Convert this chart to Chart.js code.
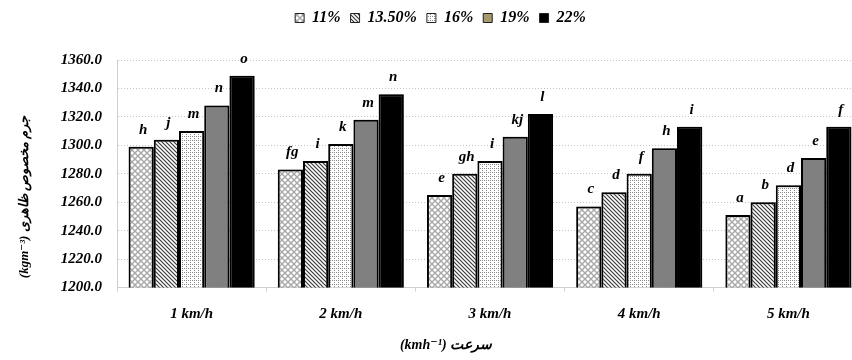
<!DOCTYPE html>
<html>
<head>
<meta charset="utf-8">
<script src="https://cdn.jsdelivr.net/npm/chart.js@4"></script>
<style>
  html, body { margin: 0; padding: 0; background: #fff; overflow: hidden; }
  #wrap { width: 880px; height: 360px; position: relative; }
</style>
</head>
<body>
<div id="wrap"><canvas id="c"></canvas></div>
<script>
const categories = ['1 km/h', '2 km/h', '3 km/h', '4 km/h', '5 km/h'];
const seriesNames = ['11%', '13.50%', '16%', '19%', '22%'];
const s11  = [1299, 1283, 1265, 1257, 1251];
const s135 = [1304, 1289, 1280, 1267, 1260];
const s16  = [1310, 1301, 1289, 1280, 1272];
const s19  = [1328, 1318, 1306, 1298, 1291];
const s22  = [1349, 1336, 1322, 1313, 1313];
const l11  = ['h', 'fg', 'e', 'c', 'a'];
const l135 = ['j', 'i', 'gh', 'd', 'b'];
const l16  = ['m', 'k', 'i', 'f', 'd'];
const l19  = ['n', 'm', 'kj', 'h', 'e'];
const l22  = ['o', 'n', 'l', 'i', 'f'];
const yTicksMin = 1200, yTicksMax = 1360, yStep = 20;
const yTitle = 'جرم مخصوص ظاهری (kgm⁻³)';
const xTitle = 'سرعت (kmh⁻¹)';

const FONT = "'Liberation Serif', 'DejaVu Serif', serif";

function makePattern(size, draw) {
  const c = document.createElement('canvas');
  c.width = size; c.height = size;
  const g = c.getContext('2d');
  g.fillStyle = '#fff'; g.fillRect(0, 0, size, size);
  draw(g, size);
  return document.getElementById('c').getContext('2d').createPattern(c, 'repeat');
}
const patCross = makePattern(6, (g, s) => {
  g.strokeStyle = '#a8a8a8'; g.lineWidth = 1.4;
  g.beginPath();
  g.moveTo(0, 0); g.lineTo(s, s);
  g.moveTo(s, 0); g.lineTo(0, s);
  g.stroke();
});
const patDiag = makePattern(4, (g, s) => {
  g.strokeStyle = '#3a3a3a'; g.lineWidth = 1.2;
  g.beginPath();
  g.moveTo(-1, -1); g.lineTo(s + 1, s + 1);
  g.moveTo(-1, s - 1); g.lineTo(1, s + 1);
  g.moveTo(s - 1, -1); g.lineTo(s + 1, 1);
  g.stroke();
});
const patDots = makePattern(4, (g, s) => {
  g.fillStyle = '#8a8a8a';
  g.fillRect(0, 0, 1, 1); g.fillRect(2, 2, 1, 1);
  g.fillRect(2, 0, 1, 1);
});

const fills = [patCross, patDiag, patDots, '#808080', '#000000'];
const legendFills = [patCross, patDiag, patDots, '#a39a70', '#000000'];
const values = [s11, s135, s16, s19, s22];
const letters = [l11, l135, l16, l19, l22];

const datasets = seriesNames.map((n, i) => ({
  label: n,
  data: values[i],
  backgroundColor: fills[i],
  borderColor: '#000',
  borderWidth: 2,
  categoryPercentage: 0.845,
  barPercentage: 1.0,
  letters: letters[i]
}));

const decor = {
  id: 'decor',
  afterInit(chart) {
    const lg = chart.legend;
    if (lg && !lg._patched) {
      const orig = lg.fit;
      lg.fit = function () { orig.call(this); this.height += 24; };
      lg._patched = true;
    }
  },
  beforeDatasetsDraw(chart) {
    const ctx = chart.ctx;
    ctx.save();
    ctx.shadowColor = 'rgba(0,0,0,0.35)';
    ctx.shadowBlur = 3;
    ctx.shadowOffsetX = 2;
  },
  afterDatasetsDraw(chart) {
    const ctx = chart.ctx;
    ctx.restore();
    ctx.save();
    ctx.font = 'italic bold 15px ' + FONT;
    ctx.fillStyle = '#000';
    ctx.textAlign = 'center';
    ctx.textBaseline = 'middle';
    chart.data.datasets.forEach((ds, di) => {
      const meta = chart.getDatasetMeta(di);
      meta.data.forEach((bar, j) => {
        ctx.fillText(ds.letters[j], bar.x + 2, bar.y - 17);
      });
    });
    ctx.restore();
  },
  afterDraw(chart) {
    const ctx = chart.ctx;
    ctx.save();
    ctx.font = 'italic bold 14px ' + FONT;
    ctx.fillStyle = '#000';
    ctx.textAlign = 'center';
    ctx.textBaseline = 'middle';
    ctx.direction = 'rtl';
    ctx.fillText(xTitle, 446, 345);
    ctx.translate(25, 197);
    ctx.rotate(-Math.PI / 2);
    ctx.font = 'italic bold 13px ' + FONT;
    ctx.fillText(yTitle, 0, 0);
    ctx.restore();
  }
};

new Chart(document.getElementById('c'), {
  type: 'bar',
  data: { labels: categories, datasets },
  plugins: [decor],
  options: {
    responsive: true,
    maintainAspectRatio: false,
    animation: false,
    layout: { padding: { left: 18, right: 17, top: 0, bottom: 0 } },
    plugins: {
      tooltip: { enabled: false },
      legend: {
        position: 'top',
        align: 'center',
        labels: {
          color: '#000',
          font: { family: FONT, size: 16, style: 'italic', weight: 'bold' },
          boxWidth: 9,
          boxHeight: 9,
          padding: 10,
          generateLabels(chart) {
            return chart.data.datasets.map((ds, i) => ({
              text: ds.label,
              fillStyle: legendFills[i],
              strokeStyle: '#222',
              lineWidth: 1,
              hidden: false,
              datasetIndex: i,
              fontColor: '#000'
            }));
          }
        }
      }
    },
    scales: {
      x: {
        afterFit(s) { s.height = 72.5; },
        grid: {
          display: true,
          drawOnChartArea: false,
          drawTicks: true,
          tickLength: 4,
          color: '#d0d0d0',
          offset: true
        },
        border: { display: true, color: '#d0d0d0', width: 1 },
        ticks: {
          color: '#000',
          padding: 14,
          font: { family: FONT, size: 15, style: 'italic', weight: 'bold' }
        }
      },
      y: {
        min: yTicksMin,
        max: yTicksMax,
        afterFit(s) { s.width = 99; },
        grid: {
          color: '#c4c4c4',
          drawTicks: false
        },
        border: { display: true, color: '#d0d0d0', dash: [1, 2] },
        ticks: {
          stepSize: yStep,
          color: '#000',
          padding: 15,
          font: { family: FONT, size: 15, style: 'italic', weight: 'bold' },
          callback: (v) => Number(v).toFixed(1)
        }
      }
    }
  }
});
</script>
</body>
</html>
